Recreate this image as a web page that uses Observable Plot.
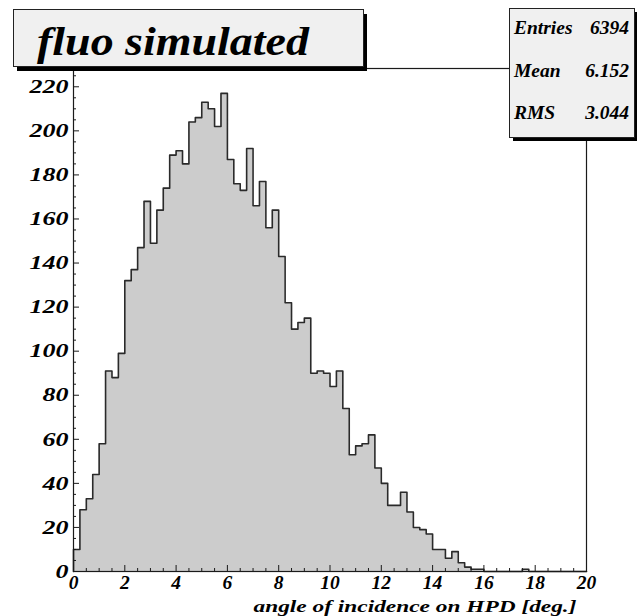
<!DOCTYPE html>
<html>
<head>
<meta charset="utf-8">
<script src="https://cdn.jsdelivr.net/npm/d3@7"></script>
<script src="https://cdn.jsdelivr.net/npm/@observablehq/plot@0.6"></script>
<style>
  html, body { margin: 0; padding: 0; background: #ffffff; }
  #chart svg { display: block; }
</style>
</head>
<body>
<div id="chart"></div>
<script>
// Histogram of the simulated fluorescence photon incidence angle (0.25 deg bins, 0..20 deg)
const binWidth = 0.25;
const counts = [
  10, 28, 33, 44, 58, 91, 88, 99,
  132, 137, 147, 168, 149, 164, 174, 189, 191, 185, 204, 206,
  213, 210, 202, 217, 187, 176, 173, 192, 166, 177,
  156, 164, 143, 122, 110, 113, 115, 90, 91, 90,
  84, 91, 74, 53, 57, 58, 62, 47, 40, 30,
  30, 36, 27, 20, 19, 17, 10, 10, 6, 9,
  4, 2, 1, 1, 0, 0, 0, 0, 0, 0,
  1, 0, 0, 0, 0, 0, 0, 0, 0, 0
];
const xTicks = [0, 2, 4, 6, 8, 10, 12, 14, 16, 18, 20];
const yTicks = [0, 20, 40, 60, 80, 100, 120, 140, 160, 180, 200, 220];
const titleText = "fluo simulated";
const xLabel = "angle of incidence on HPD [deg.]";
const statNames = ["Entries", "Mean", "RMS"];
const statValues = ["6394", "6.152", "3.044"];

// layout
const W = 637, H = 616;
const margin = {top: 68, right: 51, bottom: 45, left: 73};
const plotW = W - margin.left - margin.right;
const plotH = H - margin.top - margin.bottom;
const yMax = 228.3;
const font = {fontFamily: "Liberation Serif", fontWeight: "bold", fontStyle: "italic"};

// step outline of the histogram, closed down to zero at both ends
const outline = [{x: 0, y: 0}]
  .concat(counts.map((c, i) => ({x: i * binWidth, y: c})))
  .concat([{x: counts.length * binWidth, y: counts[counts.length - 1]}]);

const xMinor = d3.range(0, 20.001, 0.5).filter(v => !xTicks.includes(v));
const yMinor = d3.range(0, yMax, 5).filter(v => !yTicks.includes(v));

function styleText(sel, size) {
  return sel.attr("font-family", font.fontFamily).attr("font-weight", "bold")
    .attr("font-style", "italic").attr("font-size", size).attr("fill", "#000");
}

// title pad and statistics box, ROOT style with drop shadows
function annotations(index, scales, values, dims) {
  const g = d3.create("svg:g").attr("aria-label", "annotations");
  const box = (x, y, w, h, sx, sy) => {
    g.append("rect").attr("x", x + sx).attr("y", y + sy).attr("width", w).attr("height", h).attr("fill", "#000");
    g.append("rect").attr("x", x + 0.5).attr("y", y + 0.5).attr("width", w).attr("height", h)
      .attr("fill", "#f0f0f0").attr("stroke", "#222").attr("stroke-width", 1);
  };
  // title pad
  box(13, 9, 350, 57, 4, 5);
  styleText(g.append("text"), 41).attr("x", 37).attr("y", 55).attr("text-anchor", "start")
    .attr("textLength", 272).attr("lengthAdjust", "spacingAndGlyphs")
    .text(titleText);
  // stats box
  box(509, 8, 125, 129, 4, 4);
  const rows = [34, 77, 119];
  statNames.forEach((name, i) => {
    styleText(g.append("text"), 19.5).attr("x", 514).attr("y", rows[i]).attr("text-anchor", "start").text(name);
    styleText(g.append("text"), 19.5).attr("x", 629).attr("y", rows[i]).attr("text-anchor", "end").text(statValues[i]);
  });
  return g.node();
}

const chart = Plot.plot({
  width: W,
  height: H,
  marginTop: margin.top,
  marginRight: margin.right,
  marginBottom: margin.bottom,
  marginLeft: margin.left,
  style: {background: "#ffffff", overflow: "visible"},
  x: {domain: [0, 20]},
  y: {domain: [0, yMax]},
  marks: [
    Plot.areaY(outline, {x: "x", y: "y", curve: "step-after", fill: "#cccccc"}),
    Plot.line(outline, {x: "x", y: "y", curve: "step-after", stroke: "#2a2a2a", strokeWidth: 1.6}),
    Plot.frame({stroke: "#1a1a1a", strokeWidth: 1.2}),
    // inward ticks
    Plot.tickY(yTicks, {y: d => d, insetRight: plotW - 6, stroke: "#1a1a1a"}),
    Plot.tickY(yMinor, {y: d => d, insetRight: plotW - 3, stroke: "#1a1a1a"}),
    Plot.tickX(xTicks, {x: d => d, insetTop: plotH - 6, stroke: "#1a1a1a"}),
    Plot.tickX(xMinor, {x: d => d, insetTop: plotH - 3, stroke: "#1a1a1a"}),
    Plot.axisY({ticks: yTicks, tickSize: 0, tickPadding: 5, label: null, fontSize: 19.5, ...font, fill: "#000"}),
    Plot.axisX({ticks: xTicks, tickSize: 0, tickPadding: 4, label: null, fontSize: 19.5, ...font, fill: "#000"}),
    Plot.text([xLabel], {
      frameAnchor: "bottom-right", dx: -10, dy: 40, textAnchor: "end", lineAnchor: "bottom",
      fontSize: 17, ...font, fill: "#000"
    }),
    annotations
  ]
});

// tick numbers: bold italic serif, the y ones drawn wide
chart.querySelectorAll('g[aria-label="y-axis tick label"] text, g[aria-label="x-axis tick label"] text').forEach(t => {
  t.style.fontStyle = "italic";
  t.style.fontWeight = "bold";
  t.style.fontFamily = font.fontFamily;
});
chart.querySelectorAll('g[aria-label="y-axis tick label"] text').forEach(t => {
  t.setAttribute("textLength", String(t.textContent.length * 13));
  t.setAttribute("lengthAdjust", "spacingAndGlyphs");
});
// axis title spans the lower right
chart.querySelectorAll('g[aria-label="text"] text').forEach(t => {
  if (t.textContent === xLabel) {
    t.setAttribute("textLength", "323");
    t.setAttribute("lengthAdjust", "spacingAndGlyphs");
  }
});

document.getElementById("chart").appendChild(chart);
</script>
</body>
</html>
